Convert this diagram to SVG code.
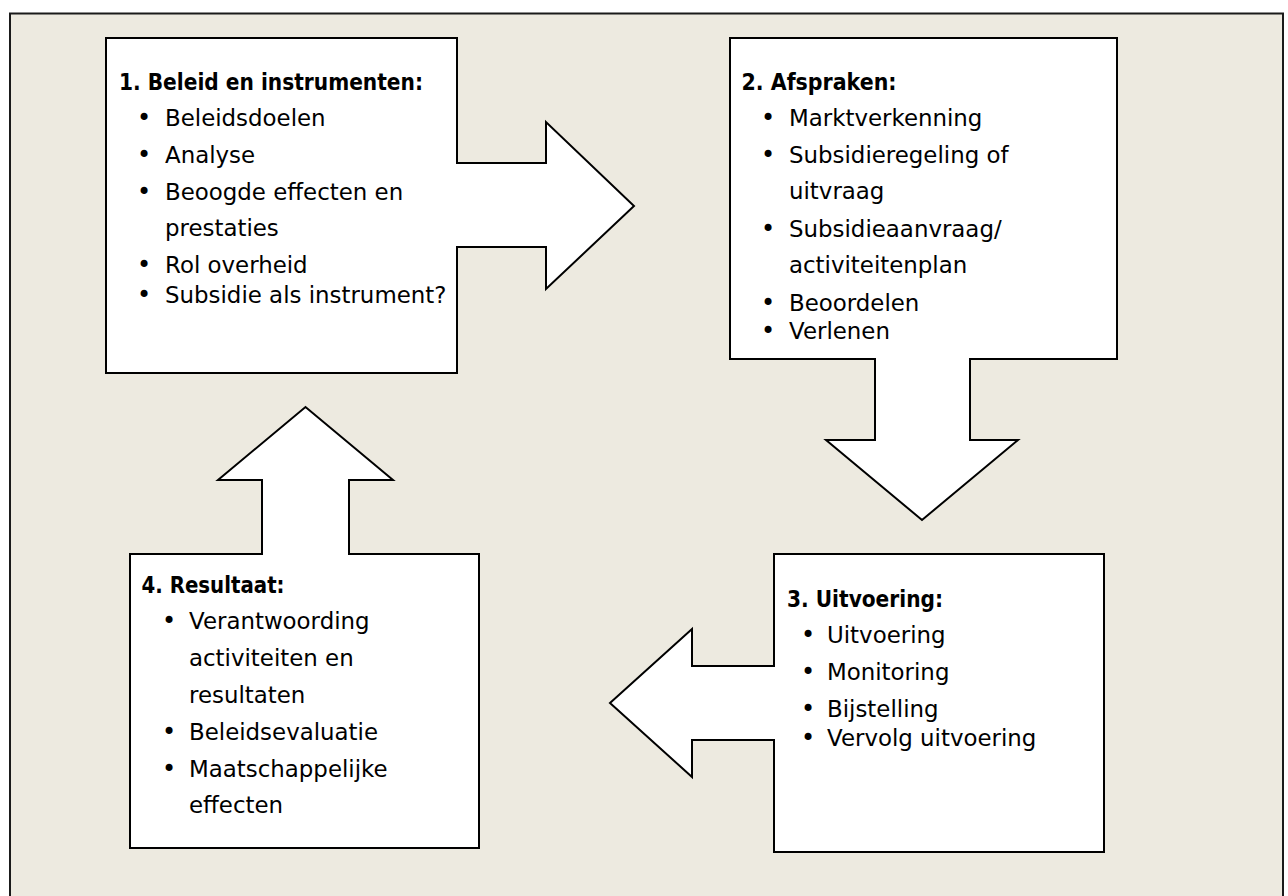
<svg xmlns="http://www.w3.org/2000/svg" width="1288" height="896" viewBox="0 0 1288 896">
<style>
.frame{fill:#EDEAE0;stroke:#1a1a1a;stroke-width:2}
.shape{fill:#ffffff;stroke:#000000;stroke-width:2;stroke-linejoin:miter}
.h{font-family:"DejaVu Sans",Verdana,sans-serif;font-weight:bold;font-size:22.5px;fill:#000}
.t{font-family:"DejaVu Sans",Verdana,sans-serif;font-size:22.9px;fill:#000}
.b{font-family:"DejaVu Sans",Verdana,sans-serif;font-size:24px;fill:#000;text-anchor:middle}
</style>
<rect class="frame" x="10" y="13.5" width="1273" height="900"/>
<g id="connectors"></g>
<g id="node1">
<path class="shape" d="M106,38 H457 V163 H546 V122 L634,206 L546,289 V247 H457 V373 H106 Z"/>
<text class="h" x="119" y="90" textLength="304" lengthAdjust="spacingAndGlyphs">1. Beleid en instrumenten:</text>
<text class="b" x="144" y="126">•</text><text class="t" x="165" y="126">Beleidsdoelen</text>
<text class="b" x="144" y="163">•</text><text class="t" x="165" y="163">Analyse</text>
<text class="b" x="144" y="200">•</text><text class="t" x="165" y="200">Beoogde effecten en</text>
<text class="t" x="165" y="236">prestaties</text>
<text class="b" x="144" y="273">•</text><text class="t" x="165" y="273">Rol overheid</text>
<text class="b" x="144" y="303">•</text><text class="t" x="165" y="303">Subsidie als instrument?</text>
</g>
<g id="node2">
<path class="shape" d="M730,38 H1117 V359 H970 V440 H1018 L922,520 L826,440 H875 V359 H730 Z"/>
<text class="h" x="741.5" y="90" textLength="155" lengthAdjust="spacingAndGlyphs">2. Afspraken:</text>
<text class="b" x="768" y="126">•</text><text class="t" x="789" y="126">Marktverkenning</text>
<text class="b" x="768" y="163">•</text><text class="t" x="789" y="163">Subsidieregeling of</text>
<text class="t" x="789" y="199">uitvraag</text>
<text class="b" x="768" y="237">•</text><text class="t" x="789" y="237">Subsidieaanvraag/</text>
<text class="t" x="789" y="273">activiteitenplan</text>
<text class="b" x="768" y="311">•</text><text class="t" x="789" y="311">Beoordelen</text>
<text class="b" x="768" y="339">•</text><text class="t" x="789" y="339">Verlenen</text>
</g>
<g id="node3">
<path class="shape" d="M774,554 H1104 V852 H774 V740 H692 V777 L610,703 L692,629 V666 H774 Z"/>
<text class="h" x="787" y="607" textLength="156" lengthAdjust="spacingAndGlyphs">3. Uitvoering:</text>
<text class="b" x="808" y="643">•</text><text class="t" x="827" y="643">Uitvoering</text>
<text class="b" x="808" y="680">•</text><text class="t" x="827" y="680">Monitoring</text>
<text class="b" x="808" y="717">•</text><text class="t" x="827" y="717">Bijstelling</text>
<text class="b" x="808" y="746">•</text><text class="t" x="827" y="746">Vervolg uitvoering</text>
</g>
<g id="node4">
<path class="shape" d="M130,554 H262 V480 H218 L305.5,407 L393,480 H349 V554 H479 V848 H130 Z"/>
<text class="h" x="141.5" y="593" textLength="143" lengthAdjust="spacingAndGlyphs">4. Resultaat:</text>
<text class="b" x="169" y="629">•</text><text class="t" x="189" y="629">Verantwoording</text>
<text class="t" x="189" y="666">activiteiten en</text>
<text class="t" x="189" y="703">resultaten</text>
<text class="b" x="169" y="740">•</text><text class="t" x="189" y="740">Beleidsevaluatie</text>
<text class="b" x="169" y="777">•</text><text class="t" x="189" y="777">Maatschappelijke</text>
<text class="t" x="189" y="813">effecten</text>
</g>
</svg>
